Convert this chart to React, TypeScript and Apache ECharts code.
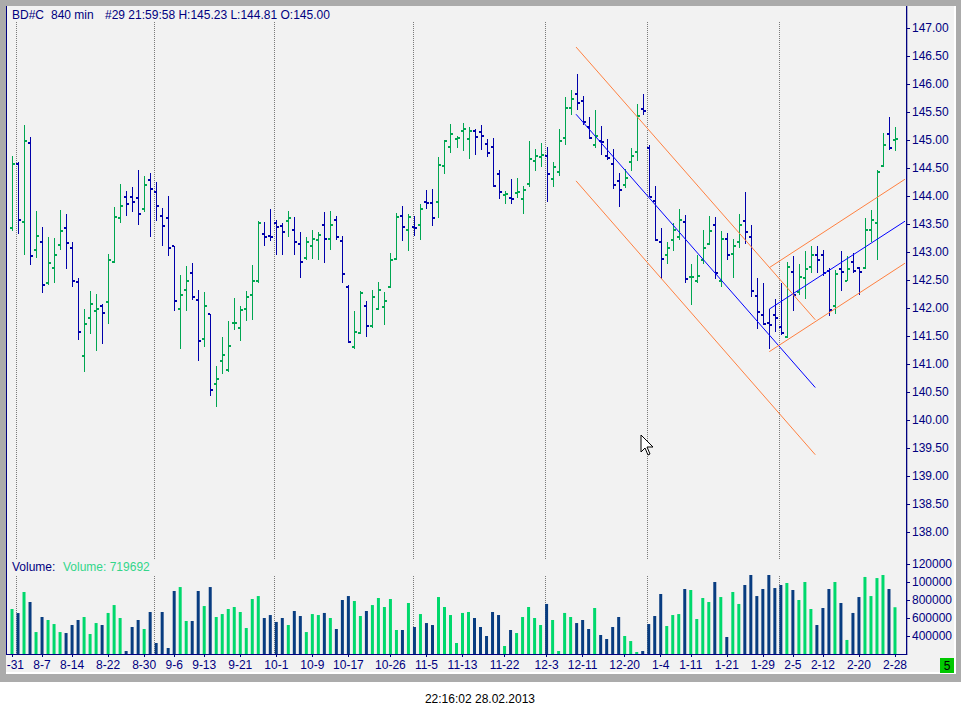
import React, { useEffect, useRef } from 'react';
import * as echarts from 'echarts';

// ---- data ----
const dates = [
  '7-31',
  '8-1','8-2','8-3','8-6','8-7','8-8','8-9','8-10','8-13','8-14','8-15','8-16','8-17','8-20','8-21','8-22','8-23','8-24','8-27','8-28','8-29','8-30','8-31',
  '9-3','9-4','9-5','9-6','9-7','9-10','9-11','9-12','9-13','9-14','9-17','9-18','9-19','9-20','9-21','9-24','9-25','9-26','9-27','9-28',
  '10-1','10-2','10-3','10-4','10-5','10-8','10-9','10-10','10-11','10-12','10-15','10-16','10-17','10-18','10-19','10-22','10-23','10-24','10-25','10-26','10-29','10-30','10-31',
  '11-1','11-2','11-5','11-6','11-7','11-8','11-9','11-12','11-13','11-14','11-15','11-16','11-19','11-20','11-21','11-22','11-23','11-26','11-27','11-28','11-29','11-30',
  '12-3','12-4','12-5','12-6','12-7','12-10','12-11','12-12','12-13','12-14','12-17','12-18','12-19','12-20','12-21','12-27','12-28',
  '1-2','1-3','1-4','1-7','1-8','1-9','1-10','1-11','1-14','1-15','1-16','1-17','1-18','1-21','1-22','1-23','1-24','1-25','1-28','1-29','1-30','1-31',
  '2-1','2-4','2-5','2-6','2-7','2-8','2-11','2-12','2-13','2-14','2-15','2-18','2-19','2-20','2-21','2-22','2-25','2-26','2-27','2-28'
];

const tickDates = ['7-31','8-7','8-14','8-22','8-30','9-6','9-13','9-21','10-1','10-9','10-17','10-26','11-5','11-13','11-22','12-3','12-11','12-20','1-4','1-11','1-21','1-29','2-5','2-12','2-20','2-28'];

const opens = [
  143.42,144.58,143.53,144.94,143.03,143.17,142.44,142.71,143.12,143.42,
  143.08,142.46,141.14,141.82,141.94,142.03,142.10,142.82,143.60,143.98,
  143.99,143.96,143.76,144.28,144.08,143.64,143.60,143.10,141.98,142.33,
  142.62,142.14,141.44,141.89,140.64,141.05,140.89,141.73,141.64,141.99,
  142.23,142.49,143.32,143.28,143.51,143.46,143.55,143.39,143.14,142.89,
  143.10,143.21,143.49,143.23,143.57,143.19,142.37,141.30,141.55,142.03,
  141.67,141.99,142.01,142.37,142.87,143.64,143.39,143.44,143.49,143.89,
  143.87,143.89,144.53,144.87,145.01,145.16,145.01,145.16,145.14,144.92,
  144.87,144.39,144.01,143.96,144.05,143.94,144.21,144.62,144.69,144.71,
  144.30,144.42,145.03,145.58,145.82,145.69,145.24,144.91,144.98,144.71,
  144.57,144.26,144.19,144.60,144.78,145.55,144.85,143.91,143.17,142.94,
  143.21,143.26,143.53,142.55,142.48,142.85,143.14,143.49,142.49,143.24,
  142.96,143.17,143.55,143.26,142.22,141.87,141.74,141.87,141.66,141.48,
  142.64,142.28,142.53,142.73,142.94,142.94,142.66,142.03,142.69,142.49,
  142.82,142.71,142.71,143.39,143.51,144.53,145.10,145.00
];
const highs = [
  144.71,144.61,145.27,145.05,143.73,143.45,143.27,143.25,143.75,143.68,
  143.18,142.53,141.98,142.30,142.25,142.07,142.97,143.80,144.22,144.09,
  144.16,144.47,144.36,144.41,144.25,143.79,144.00,143.11,142.59,142.75,
  142.80,142.32,142.29,141.89,140.97,141.49,141.77,142.17,142.04,142.31,
  142.77,143.55,143.54,143.77,143.57,143.52,143.73,143.63,143.35,143.27,
  143.39,143.35,143.72,143.73,143.64,143.29,142.41,141.95,142.30,142.13,
  142.32,142.47,142.29,142.98,143.69,143.82,143.68,143.64,143.86,144.11,
  144.13,144.69,145.00,145.29,145.08,145.30,145.23,145.20,145.27,145.01,
  145.04,144.47,144.09,144.30,144.32,144.18,144.98,144.84,144.95,144.88,
  144.61,145.20,145.76,145.89,146.18,145.79,145.41,145.54,145.25,145.02,
  144.84,144.41,144.49,144.86,145.64,145.82,144.91,144.18,143.42,143.18,
  143.52,143.77,143.66,142.78,142.94,143.39,143.64,143.63,143.37,143.34,
  143.23,143.68,144.07,143.49,142.54,142.44,141.98,142.16,142.45,142.83,
  142.92,142.78,143.01,143.11,143.10,143.03,142.71,142.67,143.01,142.92,
  142.98,142.73,143.61,143.75,144.47,145.13,145.41,145.23
];
const lows = [
  143.38,143.33,142.94,142.77,142.90,142.26,142.41,142.45,143.04,142.70,
  142.38,141.42,140.86,141.54,141.24,141.36,141.72,142.81,143.52,143.65,
  143.72,143.49,143.72,143.27,143.56,143.11,142.92,141.95,141.26,141.95,
  142.15,141.06,141.31,140.42,140.24,140.83,140.85,141.60,141.41,141.77,
  141.79,142.45,143.11,143.19,142.95,142.94,143.27,142.95,142.54,142.86,
  142.88,142.85,142.81,143.04,143.22,142.45,141.37,141.27,141.54,141.49,
  141.64,141.96,141.70,142.36,142.85,143.19,143.01,143.29,143.22,143.77,
  143.47,143.60,144.40,144.77,144.86,144.80,144.66,144.73,144.82,144.70,
  144.16,143.95,143.86,143.85,143.97,143.67,144.16,144.45,144.52,143.89,
  144.16,144.36,144.91,145.45,145.54,145.26,145.02,144.85,144.74,144.64,
  144.12,143.81,144.15,144.45,144.63,145.44,143.98,143.20,142.52,142.79,
  143.02,143.22,142.44,142.06,142.45,142.79,143.13,142.51,142.38,142.86,
  142.54,143.08,143.15,142.20,141.62,141.70,141.27,141.57,141.51,141.46,
  141.95,142.23,142.16,142.63,142.63,142.58,141.85,141.89,142.30,142.48,
  142.62,142.24,142.70,143.18,142.86,144.52,144.82,144.81
];
const closes = [
  144.58,143.57,144.99,142.92,143.28,142.41,142.80,142.94,143.37,143.16,
  142.49,141.57,141.71,142.08,141.98,141.91,142.85,143.62,143.83,143.85,
  143.89,143.67,144.19,144.12,143.82,143.46,143.07,142.12,142.23,142.49,
  142.19,141.41,142.03,140.53,140.74,141.16,141.33,141.74,141.96,142.19,
  142.48,143.51,143.26,143.26,143.44,143.35,143.60,143.17,142.83,143.17,
  143.24,143.30,143.23,143.48,143.26,142.60,141.39,141.58,142.26,141.67,
  142.19,142.32,142.12,142.85,143.62,143.44,143.62,143.42,143.76,143.87,
  143.60,144.55,144.98,145.10,145.03,145.19,145.16,145.05,145.07,144.76,
  144.17,144.08,144.03,143.94,144.08,144.10,144.66,144.71,144.74,144.39,
  144.51,144.98,145.57,145.73,145.66,145.33,145.03,145.08,144.97,144.67,
  144.19,144.10,144.33,144.71,145.42,145.51,143.99,143.21,142.87,143.08,
  143.39,143.57,142.51,142.55,142.57,143.07,143.37,142.62,143.24,142.94,
  143.10,143.48,143.35,142.31,141.92,141.71,141.69,141.82,141.55,142.73,
  142.24,142.55,142.69,142.94,142.85,142.62,141.96,142.60,142.64,142.69,
  142.66,142.64,143.39,143.58,144.42,144.91,144.85,145.02
];
const volumes = [
  700000,655000,889000,778000,444000,611000,578000,533000,444000,433000,
  522000,578000,611000,422000,544000,522000,656000,744000,600000,233000,
  500000,578000,478000,667000,322000,667000,267000,900000,944000,567000,
  567000,900000,733000,944000,611000,644000,700000,722000,667000,489000,
  811000,844000,600000,633000,556000,600000,522000,678000,622000,444000,
  644000,633000,656000,600000,478000,800000,844000,789000,622000,678000,
  744000,822000,722000,811000,467000,467000,767000,500000,644000,544000,
  522000,833000,722000,633000,322000,656000,667000,600000,500000,400000,
  667000,633000,289000,467000,433000,611000,722000,600000,522000,756000,
  578000,233000,656000,611000,544000,578000,478000,711000,411000,367000,
  500000,611000,400000,344000,222000,233000,533000,622000,867000,511000,
  633000,644000,922000,911000,589000,822000,778000,1000000,833000,389000,
  889000,756000,967000,1078000,844000,922000,1078000,933000,967000,989000,
  911000,800000,1000000,700000,522000,711000,922000,1000000,767000,356000,
  656000,833000,1056000,844000,1044000,1078000,922000,719692
];

// month boundaries (index of first bar of each month)
const monthStarts = [1, 24, 44, 67, 89, 106, 128];

// trend lines: [x1, price1, x2, price2] in bar-index / price units
const blueTrends = [
  [93.9, 145.46, 133.73, 140.58],
  [126.07, 141.98, 148.67, 143.55]
];
const orangeTrends = [
  [93.9, 146.66, 133.73, 141.79],
  [93.9, 144.27, 133.73, 139.38],
  [126.07, 142.72, 148.67, 144.30],
  [126.07, 141.22, 148.67, 142.80]
];

const PRICE_MIN = 137.5;
const PRICE_MAX = 147.5;
const VOL_MIN = 200000;
const VOL_MAX = 1200000;

// ---- styles ----
const NAVY = '#000080';
const UP = '#00A651';
const DOWN = '#0000AA';
const VUP = '#00D86C';
const VDOWN = '#083C80';
const FONT = '"Liberation Sans", Arial, sans-serif';
const GRAY = '#ABABAB';
const PANE = '#F2F2F2';

const last = opens.length - 1;
const categories = ['', ...dates, '', ''];
const tickSet = new Set(tickDates);
const showTick = (_i: number, v: string) => tickSet.has(v);

function buildOption(): any {
  const ohlc = opens.map((o, i) => [i, o, highs[i], lows[i], closes[i]]);
  const volData = volumes.map((v, i) => ({
    value: [i, v],
    itemStyle: { color: closes[i] >= opens[i] ? VUP : VDOWN }
  }));

  const ohlcRender = (_p: any, api: any) => {
    const i = api.value(0);
    const o = api.value(1), h = api.value(2), l = api.value(3), c = api.value(4);
    const ph = api.coord([i, h]);
    const pl = api.coord([i, l]);
    const po = api.coord([i, o]);
    const pc = api.coord([i, c]);
    const x = Math.round(ph[0]);
    const color = c >= o ? UP : DOWN;
    const yh = Math.round(ph[1]);
    const yl = Math.round(pl[1]);
    return {
      type: 'group',
      children: [
        { type: 'rect', shape: { x, y: yh, width: 1, height: Math.max(1, yl - yh) }, style: { fill: color } },
        { type: 'rect', shape: { x: x - 2, y: Math.round(po[1]) - 1, width: 2, height: 2 }, style: { fill: color } },
        { type: 'rect', shape: { x: x + 1, y: Math.round(pc[1]) - 1, width: 2, height: 2 }, style: { fill: color } }
      ]
    };
  };

  const trendRender = (color: string) => (_p: any, api: any) => {
    const a = api.coord([api.value(0), api.value(1)]);
    const b = api.coord([api.value(2), api.value(3)]);
    return {
      type: 'line',
      shape: { x1: a[0], y1: a[1], x2: b[0], y2: b[1] },
      style: { stroke: color, lineWidth: 1 }
    };
  };

  const dottedRender = (yRef: number, topPad: number, botPad: number) => (p: any, api: any) => {
    const cs = p.coordSys;
    const x = Math.round(api.coord([api.value(0), yRef])[0]) + 0.5;
    return {
      type: 'line',
      shape: { x1: x, y1: cs.y + topPad, x2: x, y2: cs.y + cs.height - botPad },
      style: { stroke: '#7A7A7A', lineWidth: 1, lineDash: [1, 1] }
    };
  };

  const txt = (text: string, x: number, y: number, fill: string, align = 'left', size = 12) => ({
    type: 'text',
    z: 100,
    zlevel: 1,
    style: {
      text, x, y, fill,
      font: `${size}px ${FONT}`,
      textAlign: align, align,
      textVerticalAlign: 'middle', verticalAlign: 'middle'
    }
  });

  const header2 = `#29 21:59:58 H:${highs[last].toFixed(2)} L:${lows[last].toFixed(2)} O:${opens[last].toFixed(2)}`;

  const yTick = { show: true, length: 3, lineStyle: { color: NAVY } };

  // the first date label is cut by the pane's left border: only its tail shows
  const xLabelFormatter = (v: string) => (v === dates[0] ? `{cut|${v.slice(1)}}` : v);

  return {
    animation: false,
    backgroundColor: '#FFFFFF',
    grid: [
      { left: 6, right: 54, top: 0, height: 560, outerBoundsMode: 'none' },
      { left: 6, right: 54, top: 564, height: 90, outerBoundsMode: 'none' }
    ],
    xAxis: [
      { type: 'value', gridIndex: 0, min: -1, max: 149, show: false },
      {
        type: 'category', gridIndex: 1, data: categories, boundaryGap: false,
        axisLine: { show: true, onZero: false, lineStyle: { color: NAVY, width: 1 } },
        axisTick: { show: true, interval: showTick, length: 3, lineStyle: { color: NAVY } },
        axisLabel: {
          interval: showTick, color: NAVY, fontSize: 12, fontFamily: FONT, margin: 5,
          formatter: xLabelFormatter,
          rich: { cut: { color: NAVY, fontSize: 12, fontFamily: FONT, padding: [0, 0, 0, 6.67] } }
        },
        splitLine: { show: false }
      },
      { type: 'value', gridIndex: 1, min: -1, max: 149, show: false, position: 'top' }
    ],
    yAxis: [
      {
        type: 'value', gridIndex: 0, position: 'right', min: PRICE_MIN, max: PRICE_MAX, interval: 0.5,
        axisLine: { show: false, onZero: false },
        axisTick: yTick,
        axisLabel: {
          color: NAVY, fontSize: 12, fontFamily: FONT, margin: 5,
          showMinLabel: false, showMaxLabel: false,
          formatter: (v: number) => v.toFixed(2)
        },
        splitLine: { show: false }
      },
      {
        type: 'value', gridIndex: 1, position: 'right', min: VOL_MIN, max: VOL_MAX, interval: 200000,
        axisLine: { show: false, onZero: false },
        axisTick: yTick,
        axisLabel: {
          color: NAVY, fontSize: 12, fontFamily: FONT, margin: 5,
          showMinLabel: false,
          formatter: (v: number) => String(v).slice(0, 6)
        },
        splitLine: { show: false }
      }
    ],
    series: [
      {
        type: 'custom', name: 'monthsMain', xAxisIndex: 0, yAxisIndex: 0, silent: true, z: 1,
        renderItem: dottedRender(PRICE_MIN, 22, 1),
        data: monthStarts.map((k) => [k - 0.3, PRICE_MIN])
      },
      {
        type: 'custom', name: 'monthsVol', xAxisIndex: 2, yAxisIndex: 1, silent: true, z: 1,
        renderItem: dottedRender(VOL_MIN, 12, 0),
        data: monthStarts.map((k) => [k - 0.3, VOL_MIN])
      },
      {
        type: 'custom', name: 'BD#C', xAxisIndex: 0, yAxisIndex: 0, silent: true,
        renderItem: ohlcRender,
        encode: { x: 0, y: [1, 2, 3, 4] },
        data: ohlc,
        markLine: {
          silent: true,
          symbol: 'none',
          lineStyle: { opacity: 0 },
          label: {
            show: true, position: 'end', distance: 3,
            formatter: closes[last].toFixed(2),
            color: '#FFFFFF', backgroundColor: NAVY, padding: [1, 2, 1, 2],
            fontSize: 12, fontFamily: FONT
          },
          data: [{ yAxis: closes[last] }]
        }
      },
      {
        type: 'custom', name: 'trendBlue', xAxisIndex: 0, yAxisIndex: 0, silent: true, z: 3,
        renderItem: trendRender('#0000FF'),
        data: blueTrends
      },
      {
        type: 'custom', name: 'trendOrange', xAxisIndex: 0, yAxisIndex: 0, silent: true, z: 3,
        renderItem: trendRender('#FF8040'),
        data: orangeTrends
      },
      {
        type: 'bar', name: 'Volume', xAxisIndex: 2, yAxisIndex: 1, silent: true,
        barWidth: 3, data: volData
      }
    ],
    graphic: {
      elements: [
        { type: 'rect', z: -3, shape: { x: 0, y: 0, width: 961, height: 682 }, style: { fill: GRAY } },
        { type: 'rect', z: -2, shape: { x: 6, y: 6, width: 948, height: 666 }, style: { fill: PANE } },
        { type: 'rect', z: -2, shape: { x: 954, y: 6, width: 2, height: 668 }, style: { fill: '#FFFFFF' } },
        { type: 'rect', z: -2, shape: { x: 6, y: 672, width: 950, height: 2 }, style: { fill: '#FFFFFF' } },
        // frame strips on top
        { type: 'rect', z: 100, zlevel: 1, shape: { x: 0, y: 0, width: 961, height: 6 }, style: { fill: GRAY } },
        { type: 'rect', z: 100, zlevel: 1, shape: { x: 0, y: 0, width: 6, height: 682 }, style: { fill: GRAY } },
        { type: 'rect', z: 100, zlevel: 1, shape: { x: 6, y: 6, width: 1, height: 648 }, style: { fill: NAVY } },
        { type: 'rect', z: 100, zlevel: 1, shape: { x: 906, y: 6, width: 1.3, height: 648 }, style: { fill: NAVY } },
        // header
        txt('BD#C', 12, 15, NAVY),
        txt('840 min', 51, 15, NAVY),
        txt(header2, 105, 15, NAVY),
        // volume legend
        txt('Volume:', 12, 567, NAVY),
        txt(`Volume: ${volumes[last]}`, 63, 567, '#33D68A'),
        // green box
        { type: 'rect', z: 100, zlevel: 1, shape: { x: 940, y: 658, width: 14, height: 15 }, style: { fill: '#00C800' } },
        txt('5', 947, 666, '#000000', 'center'),
        // timestamp
        txt('22:16:02 28.02.2013', 480, 699, '#000000', 'center'),
        // mouse cursor
        {
          type: 'polygon', z: 100, zlevel: 1,
          shape: { points: [[641, 435], [641, 452], [645, 448], [648, 455], [650, 454], [647, 447], [653, 447]] },
          style: { fill: '#FFFFFF', stroke: '#000000', lineWidth: 1 }
        }
      ]
    }
  };
}

export default function App() {
  const ref = useRef<HTMLDivElement>(null);
  useEffect(() => {
    if (!ref.current) return;
    const chart = echarts.init(ref.current, null, { renderer: 'svg' });
    chart.setOption(buildOption());
    return () => chart.dispose();
  }, []);
  return (
    <div
      ref={ref}
      style={{ position: 'absolute', left: 0, top: 0, width: 961, height: 716 }}
    />
  );
}
